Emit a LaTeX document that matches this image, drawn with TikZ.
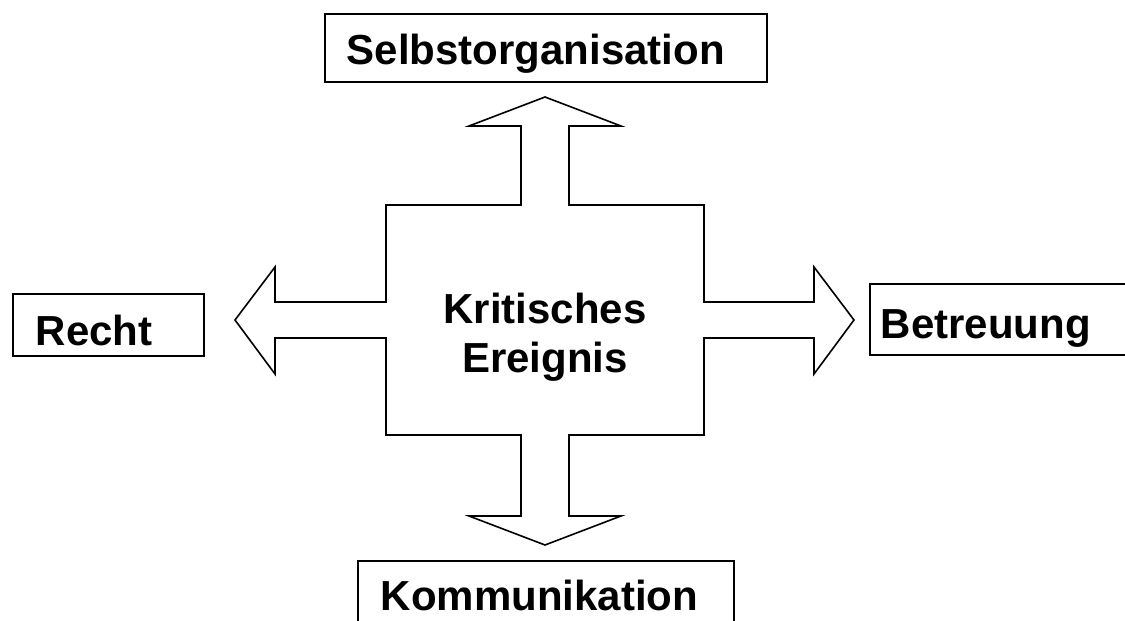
\documentclass[tikz,border=0pt]{standalone}
\usepackage{fontspec}
\setmainfont{Liberation Sans}
\newcommand{\tagfont}{\fontsize{42}{49}\selectfont\bfseries}

\begin{document}
\begin{tikzpicture}[x=1pt,y=-1pt,
  tag/.style={draw,line width=1.6pt,font=\tagfont,align=left,
    inner ysep=0pt,anchor=north west},
  cross/.style={draw,line width=1.6pt,line join=miter}]

\useasboundingbox (0,0) rectangle (1125,621);

%%%%%%%%%%%%%%%%%%%%%%%%%%%%%%%%%%%%%%%%%%%%%%%%%%
% Cross of four arrows
%%%%%%%%%%%%%%%%%%%%%%%%%%%%%%%%%%%%%%%%%%%%%%%%%%

\draw[cross]
(386,205)--(521,205)
% up
--(521,126)--(469,126)--(545,97)--(621,126)--(569,126)
--(569,205)--(704,205)
% right
--(704,302)--(814,302)--(814,267)--(854,320)
--(814,374)--(814,338)--(704,338)
--(704,435)--(569,435)
% down
--(569,516)--(621,516)--(545,545)--(469,516)--(521,516)
--(521,435)--(386,435)
% left
--(386,338)--(275,338)--(275,374)--(235,320)
--(275,267)--(275,302)--(386,302)
--cycle;

% Centre text
\node[font=\tagfont,align=center,inner sep=0pt,anchor=north]
(ereignis) at (545,292.5) {Kritisches\\Ereignis};

%%%%%%%%%%%%%%%%%%%%%%%%%%%%%%%%%%%%%%%%%%%%%%%%%%
% Boxes
%%%%%%%%%%%%%%%%%%%%%%%%%%%%%%%%%%%%%%%%%%%%%%%%%%

\node[tag,inner xsep=22pt,text width=398pt,
  text height=51pt,text depth=17pt]
(selbst) at (324,13) {Selbstorganisation};

\node[tag,inner xsep=23pt,text width=145pt,
  text height=52pt,text depth=10pt]
(recht) at (12,293) {Recht};

\node[tag,inner xsep=11pt,text width=244pt,
  text height=55pt,text depth=16pt]
(betreuung) at (869,283) {Betreuung};

\node[tag,inner xsep=23pt,text width=330pt,
  text height=50pt,text depth=25pt]
(kommunikation) at (357,560) {Kommunikation};

\end{tikzpicture}
\end{document}
